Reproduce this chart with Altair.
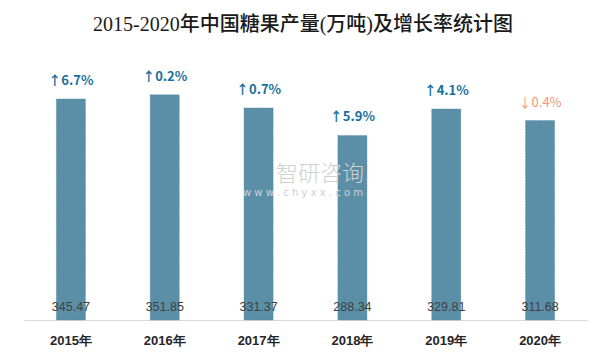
import altair as alt
import pandas as pd

title_text = "2015-2020年中国糖果产量(万吨)及增长率统计图"
years = ["2015年", "2016年", "2017年", "2018年", "2019年", "2020年"]
production = [345.47, 351.85, 331.37, 288.34, 329.81, 311.68]
growth_labels = ["↑6.7%", "↑0.2%", "↑0.7%", "↑5.9%", "↑4.1%", "↓0.4%"]
direction = ["up", "up", "up", "up", "up", "down"]

df = pd.DataFrame({
    "year": years,
    "production": production,
    "growth": growth_labels,
    "dir": direction,
    "value_label": [f"{v:.2f}" for v in production],
})

x_enc = alt.X("year:N", sort=years,
              scale=alt.Scale(paddingInner=0.69, paddingOuter=0.345),
              axis=alt.Axis(title=None, labelAngle=0, ticks=False, tickSize=0,
                            domainColor="#d9d9d9", domainWidth=1,
                            labelFont="Liberation Sans", labelFontSize=13,
                            labelFontWeight="bold", labelColor="#262626",
                            labelPadding=14, grid=False))
y_scale = alt.Scale(domain=[0, 400])

base = alt.Chart(df)

bars = base.mark_bar(color="#5b8fa7", stroke="#5085a0", strokeWidth=0.5,
                     strokeDash=[2, 1]).encode(
    x=x_enc,
    y=alt.Y("production:Q", scale=y_scale, axis=None),
)

values = base.mark_text(font="Liberation Sans", fontSize=12.5, color="#404040",
                        baseline="middle", dy=-13).encode(
    x=alt.X("year:N", sort=years),
    y=alt.datum(0),
    text="value_label:N",
)

growth_up = base.transform_filter(alt.datum.dir == "up").mark_text(
    font="Noto Sans CJK SC", fontSize=13, fontWeight="bold", color="#17709b",
    baseline="middle", dy=-18).encode(
    x=alt.X("year:N", sort=years),
    y=alt.Y("production:Q"),
    text="growth:N",
)
growth_down = base.transform_filter(alt.datum.dir == "down").mark_text(
    font="Noto Sans CJK SC", fontSize=13, fontWeight="normal", color="#f4967a",
    baseline="middle", dy=-18).encode(
    x=alt.X("year:N", sort=years),
    y=alt.Y("production:Q"),
    text="growth:N",
)

title_df = pd.DataFrame({"t": [title_text]})
title = alt.Chart(title_df).mark_text(font="Liberation Serif, Noto Sans CJK SC", fontSize=20,
                                      fontWeight=500, color="#1a1a1a",
                                      baseline="middle", align="center").encode(
    x=alt.value(279), y=alt.value(-39), text="t:N")

wm_df = pd.DataFrame({"a": ["智研咨询"], "b": ["w w w . c h y x x . c o m"]})
wm1 = alt.Chart(wm_df).mark_text(font="Noto Sans CJK SC", fontSize=22, color="#d0d0d0",
                                 fontWeight=300, baseline="middle", align="center").encode(
    x=alt.value(296), y=alt.value(110), text="a:N")
wm2 = alt.Chart(wm_df).mark_text(font="DejaVu Sans", fontSize=10, color="#d0d0d0",
                                 baseline="middle", align="center").encode(
    x=alt.value(279), y=alt.value(129), text="b:N")

chart = alt.layer(bars, wm1, wm2, values, growth_up, growth_down, title).properties(
    width=563, height=256,
    background="white",
    autosize=alt.AutoSizeParams(type="none"),
    padding={"left": 16, "top": 56, "right": 11, "bottom": 36},
).configure_view(stroke=None)

chart.save("out.html", embed_options={"renderer": "svg", "actions": False})
